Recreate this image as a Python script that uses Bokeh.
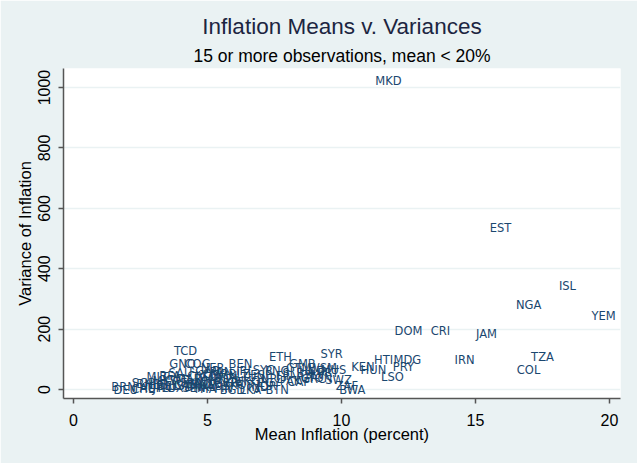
from bokeh.plotting import figure
from bokeh.models import ColumnDataSource, Title, Range1d, FixedTicker
from bokeh.core.properties import value
from bokeh.embed import file_html
from bokeh.resources import INLINE

# Country codes, mean inflation (percent), variance of inflation
codes = ["MKD", "EST", "ISL", "NGA", "YEM", "DOM", "CRI", "JAM", "IRN", "TZA", "COL",
         "HTI", "MDG", "PRY", "LSO", "HUN", "KEN", "SYR", "ETH", "GMB", "SWZ", "BWA",
         "ZAF", "TCD", "GNQ", "COG", "BEN", "NER", "SAU", "MLT", "SGP", "BRN", "DEU",
         "CHE", "AUT", "NLD", "BHR", "JPN", "BEL", "LUX", "MYS", "USA", "CAN", "FRA",
         "KWT", "MAR", "CIV", "BFA", "SEN", "DNK", "SWE", "NOR", "TGO", "MLI", "CMR",
         "GAB", "THA", "CYP", "AUS", "FIN", "GBR", "ITA", "NZL", "OMN", "PAN", "BGD",
         "LKA", "BTN", "IND", "KOR", "HKG", "TUN", "BLZ", "EGY", "IRL", "ESP", "NPL",
         "FJI", "PNG", "JOR", "PAK", "CAF", "SLB", "VUT", "HND", "GTM", "SLV", "WSM",
         "GRC", "PRT", "TON", "MUS", "SYC"]
mean_infl = [11.75, 15.93, 18.43, 16.98, 19.78, 12.50, 13.69, 15.41, 14.59, 17.50, 16.98,
             11.57, 12.46, 12.31, 11.90, 11.19, 10.80, 9.63, 7.72, 8.54, 9.89, 10.40,
             10.20, 4.18, 4.07, 4.63, 6.23, 5.19, 3.99, 3.13, 2.61, 1.87, 1.95,
             2.60, 2.90, 3.10, 2.80, 3.30, 3.50, 3.70, 3.40, 4.00, 4.20, 4.40,
             3.80, 4.30, 4.60, 3.60, 4.50, 4.60, 4.80, 5.00, 4.90, 5.20, 5.30,
             5.00, 4.90, 5.10, 5.40, 5.60, 5.70, 6.00, 5.80, 5.60, 5.50, 5.93,
             6.60, 7.60, 6.90, 6.30, 6.50, 6.70, 6.20, 7.30, 6.40, 7.00, 7.40,
             7.80, 7.60, 7.20, 8.10, 8.40, 8.20, 8.60, 8.90, 8.40, 9.00, 9.30,
             8.95, 9.50, 9.20, 9.70, 7.09]
var_infl = [1023, 536, 344, 281, 242, 195, 195, 185, 99, 109, 66,
            99, 99, 76, 40, 63, 73, 119, 106, 86, 30, 0,
            10, 126, 86, 86, 83, 70, 56, 40, 23, 8, 0,
            2, 6, 14, 18, 4, 10, 6, 28, 12, 16, 20,
            30, 36, 44, 46, 4, 8, 14, 18, 40, 30, 50,
            60, 2, 24, 12, 6, 20, 22, 36, 44, 58, 0,
            0, 0, 8, 16, 28, 40, 52, 20, 60, 48, 36,
            44, 60, 12, 28, 25, 54, 40, 62, 72, 48, 70,
            34, 55, 38, 66, 66]

x_ticks = [0, 5, 10, 15, 20]
y_ticks = [0, 200, 400, 600, 800, 1000]

source = ColumnDataSource(dict(code=codes, x=mean_infl, y=var_infl))

BG = "#EAF2F3"
p = figure(width=637, height=463, output_backend="svg", toolbar_location=None,
           title=None, x_range=Range1d(-0.373, 20.41), y_range=Range1d(-29.8, 1063),
           min_border_left=63, min_border_right=17, min_border_top=68, min_border_bottom=65)
p.background_fill_color = "white"
p.border_fill_color = BG
p.outline_line_color = None

sub = Title(text="15 or more observations, mean < 20%", align="center",
            text_font="Liberation Sans", text_font_size="17.5px",
            text_font_style="normal", text_color="black", standoff=6)
main = Title(text="Inflation Means v. Variances", align="center",
             text_font="Liberation Sans", text_font_size="22.5px",
             text_font_style="normal", text_color="#1c2541", standoff=4)
p.add_layout(sub, "above")
p.add_layout(main, "above")

p.text(x="x", y="y", text="code", source=source, text_font=value("DejaVu Sans"),
       text_font_size="11.5px", text_color="#1a476f", text_align="center",
       text_baseline="middle")

p.xgrid.grid_line_color = None
p.ygrid.grid_line_color = BG
p.ygrid.grid_line_width = 1.5
p.ygrid.ticker = FixedTicker(ticks=y_ticks)

for ax in (p.xaxis[0], p.yaxis[0]):
    ax.axis_line_color = "#555555"
    ax.axis_line_width = 1.5
    ax.major_tick_line_color = "#555555"
    ax.major_tick_line_width = 1.5
    ax.major_tick_out = 5
    ax.major_tick_in = 0
    ax.minor_tick_line_color = None
    ax.major_label_text_font = "Liberation Sans"
    ax.major_label_text_font_size = "16px"
    ax.major_label_text_color = "black"
    ax.axis_label_text_font = "Liberation Sans"
    ax.axis_label_text_font_size = "16.5px"
    ax.axis_label_text_font_style = "normal"
    ax.axis_label_text_color = "black"

p.xaxis.ticker = FixedTicker(ticks=x_ticks)
p.yaxis.ticker = FixedTicker(ticks=y_ticks)
p.xaxis.axis_label = "Mean Inflation (percent)"
p.yaxis.axis_label = "Variance of Inflation"
p.yaxis.major_label_orientation = "vertical"
p.xaxis.major_label_standoff = 10
p.xaxis.axis_label_standoff = -4
p.yaxis.major_label_standoff = 8
p.yaxis.axis_label_standoff = 2

open("out.html", "w").write(file_html(p, INLINE))
